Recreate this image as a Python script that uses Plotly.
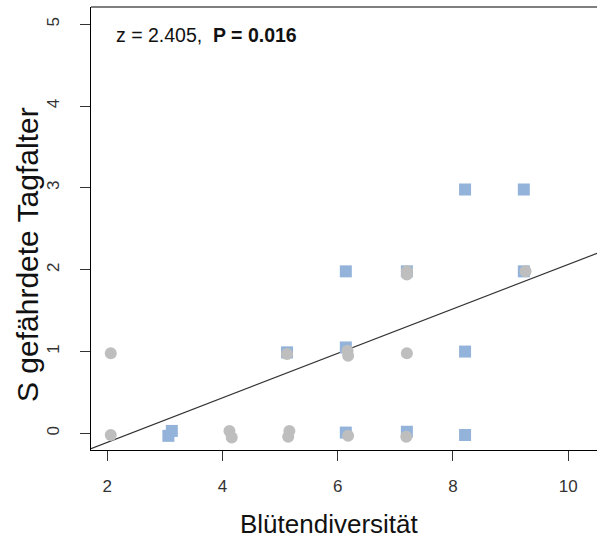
import plotly.graph_objects as go

# Blue squares (x = Blütendiversität, jittered; y = S gefährdete Tagfalter)
blue_x = [3.06, 3.12, 5.12, 6.14, 6.14, 6.14, 7.20, 7.20, 8.21, 8.21, 8.21, 9.23, 9.23]
blue_y = [-0.03, 0.03, 0.99, 0.01, 1.05, 1.98, 0.02, 1.98, -0.02, 1.00, 2.98, 2.98, 1.98]

# Grey circles
grey_x = [2.06, 2.06, 4.12, 4.16, 5.12, 5.16, 5.14, 6.17, 6.18, 6.18, 7.20, 7.19, 7.20, 7.20, 9.26]
grey_y = [0.98, -0.02, 0.03, -0.05, 0.97, 0.03, -0.04, 1.01, 0.95, -0.03, 0.98, -0.04, 1.98, 1.94, 1.98]

# Regression line (intercept, slope)
line_intercept = -0.652
line_slope = 0.2716

x_ticks = [2, 4, 6, 8, 10]
y_ticks = [0, 1, 2, 3, 4, 5]
x_range = [1.717, 10.5]
y_range = [-0.203, 5.21]

FONT = "Liberation Sans, Arial, sans-serif"
BLUE = "#93B3DA"
GREY = "#BEBEBE"

fig = go.Figure()
fig.add_trace(go.Scatter(
    x=x_range,
    y=[line_intercept + line_slope * v for v in x_range],
    mode="lines", line=dict(color="#333333", width=1.2),
    hoverinfo="skip", showlegend=False))
fig.add_trace(go.Scatter(
    x=blue_x, y=blue_y, mode="markers",
    marker=dict(symbol="square", size=12, color=BLUE, line=dict(width=0)),
    showlegend=False))
fig.add_trace(go.Scatter(
    x=grey_x, y=grey_y, mode="markers",
    marker=dict(symbol="circle", size=12, color=GREY, line=dict(width=0)),
    showlegend=False))

axis_common = dict(showgrid=False, zeroline=False, showline=True, linecolor="black",
                   linewidth=1.2, ticks="outside", ticklen=10, tickwidth=1,
                   tickcolor="#333333",
                   tickfont=dict(family=FONT, size=17, color="#333333"))

fig.update_xaxes(range=x_range, tickvals=x_ticks, ticktext=[str(v) for v in x_ticks],
                 ticklabelstandoff=10, **axis_common)
fig.update_yaxes(range=y_range, tickvals=y_ticks, ticktext=[str(v) for v in y_ticks],
                 tickangle=-90, ticklabelstandoff=14, **axis_common)

fig.update_layout(
    width=597, height=542,
    margin=dict(l=91, r=0, t=7, b=92),
    paper_bgcolor="white", plot_bgcolor="white",
    font=dict(family=FONT, color="black"),
    shapes=[dict(type="line", xref="paper", yref="paper", x0=0, x1=1, y0=1, y1=1,
                 line=dict(color="black", width=1.2))],
    annotations=[
        dict(text="Blütendiversität", xref="paper", yref="paper",
             x=(329 - 91) / 506, y=(450 - 524) / 443, xanchor="center", yanchor="middle",
             showarrow=False, font=dict(family=FONT, size=26, color="#111111")),
        dict(text="S gefährdete Tagfalter", xref="paper", yref="paper",
             x=(27 - 91) / 506, y=(450 - 255) / 443, xanchor="center", yanchor="middle",
             textangle=-90, showarrow=False, font=dict(family=FONT, size=30, color="#111111")),
        dict(text="z = 2.405,  <b>P = 0.016</b>", xref="paper", yref="paper",
             x=(114 - 91) / 506, y=(450 - 35) / 443, xanchor="left", yanchor="middle",
             showarrow=False, font=dict(family=FONT, size=19.5, color="#111111")),
    ],
)

fig.write_html("out.html")
